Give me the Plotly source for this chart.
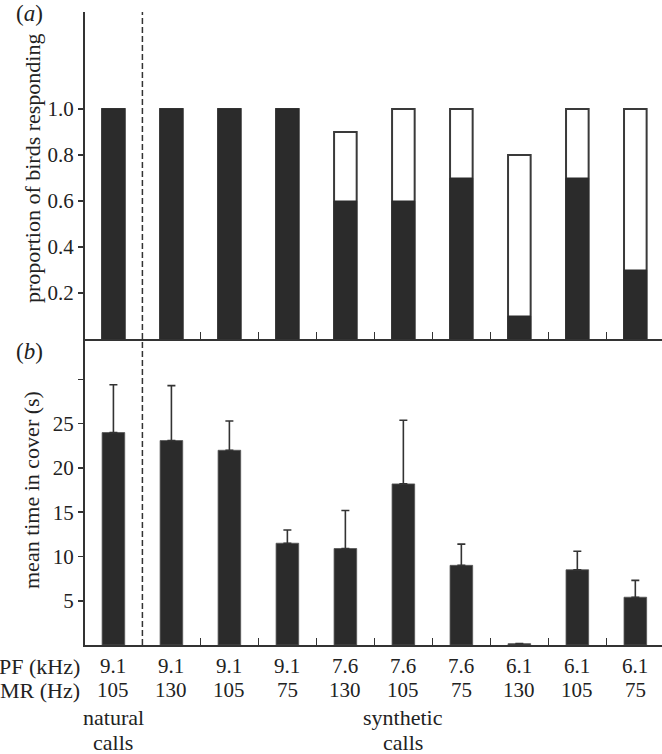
import plotly.graph_objects as go

# ---- data ----
pf_khz = ["9.1", "9.1", "9.1", "9.1", "7.6", "7.6", "7.6", "6.1", "6.1", "6.1"]
mr_hz = ["105", "130", "105", "75", "130", "105", "75", "130", "105", "75"]
n_natural = 1
group_labels = [("natural", "calls"), ("synthetic", "calls")]

prop_total = [1.0, 1.0, 1.0, 1.0, 0.9, 1.0, 1.0, 0.8, 1.0, 1.0]
prop_black = [1.0, 1.0, 1.0, 1.0, 0.6, 0.6, 0.7, 0.1, 0.7, 0.3]

mean_cover = [24.0, 23.1, 22.0, 11.5, 10.9, 18.2, 9.0, 0.15, 8.5, 5.4]
mean_upper = [29.4, 29.3, 25.3, 13.0, 15.2, 25.4, 11.4, 0.15, 10.6, 7.3]

top_ticks = [0.2, 0.4, 0.6, 0.8, 1.0]
bot_ticks = [5, 10, 15, 20, 25, 30]
bot_ticktext = ["5", "10", "15", "20", "25", ""]

# ---- styling ----
W, H = 662, 754
ML, MR_, MT, MB = 85, 0, 12, 109
FONT = "Liberation Serif, Times New Roman, serif"
FS = 21
DARK = "#2b2b2b"
LINE = "#333333"
TXT = "#222222"

xs = list(range(len(pf_khz)))
err_up = [u - m for u, m in zip(mean_upper, mean_cover)]
xr = [-0.49, 9.46]
mids = [i + 0.5 for i in range(n_natural, len(xs) - 1)]

fig = go.Figure()
# top panel: white outlined total, black responding overlay
fig.add_trace(go.Bar(x=xs, y=prop_total, width=0.39, xaxis="x", yaxis="y",
                     marker=dict(color="white", line=dict(color="#3a3a3a", width=2)),
                     showlegend=False, hoverinfo="skip"))
fig.add_trace(go.Bar(x=xs, y=prop_black, width=0.39, xaxis="x", yaxis="y",
                     marker=dict(color=DARK, line=dict(color=DARK, width=1)),
                     showlegend=False, hoverinfo="skip"))
# bottom panel
fig.add_trace(go.Bar(x=xs, y=mean_cover, width=0.39, xaxis="x2", yaxis="y2",
                     marker=dict(color=DARK, line=dict(color="#555555", width=0.8)),
                     error_y=dict(type="data", symmetric=False, array=err_up,
                                  arrayminus=[0] * len(xs), color=LINE,
                                  thickness=1.6, width=4),
                     showlegend=False, hoverinfo="skip"))

ax_common = dict(range=xr, showline=True, linecolor=LINE, linewidth=2,
                 showgrid=False, zeroline=False, ticks="",
                 showticklabels=False, fixedrange=True,
                 minor=dict(tickmode="array", tickvals=mids, ticks="inside",
                            ticklen=7, tickwidth=1.5, tickcolor=LINE))

bot_dom_top = (H - MB - 340) / (H - MT - MB)
top_dom_bot = (H - MB - 339) / (H - MT - MB)

fig.update_layout(
    width=W, height=H,
    margin=dict(l=ML, r=MR_, t=MT, b=MB, autoexpand=False),
    paper_bgcolor="white", plot_bgcolor="white",
    barmode="overlay",
    font=dict(family=FONT, size=FS, color=TXT),
    xaxis=dict(**ax_common, anchor="y"),
    xaxis2=dict(**ax_common, anchor="y2"),
    yaxis=dict(domain=[top_dom_bot, 1], range=[0, 1.4217], anchor="x",
               showline=True, linecolor=LINE, linewidth=2, showgrid=False,
               zeroline=False, ticks="outside", ticklen=5, tickwidth=1.5,
               tickcolor=LINE, tickvals=top_ticks, automargin=False,
               ticktext=[f"{v:.1f}" for v in top_ticks], fixedrange=True,
               tickfont=dict(family=FONT, size=FS, color=TXT)),
    yaxis2=dict(domain=[0, bot_dom_top], range=[0, 34.46], anchor="x2",
                showline=True, linecolor=LINE, linewidth=2, showgrid=False,
                zeroline=False, ticks="outside", ticklen=5, tickwidth=1.5,
                tickcolor=LINE, tickvals=bot_ticks, ticktext=bot_ticktext,
                automargin=False, fixedrange=True,
                tickfont=dict(family=FONT, size=FS, color=TXT)),
)

# dashed divider between natural and synthetic calls
fig.add_shape(type="line", xref="x", yref="paper",
              x0=n_natural - 0.5, x1=n_natural - 0.5, y0=0, y1=1,
              line=dict(color=LINE, width=1.5, dash="6px,3px"))

pw = W - ML - MR_
ph = H - MT - MB


def px(xpix):
    return (xpix - ML) / pw


def py(ypix):
    return (H - MB - ypix) / ph


def note(text, x, y, xref="paper", xanchor="center", size=FS, angle=0):
    return dict(text=text, x=x, y=py(y), xref=xref, yref="paper",
                textangle=angle, showarrow=False, xanchor=xanchor,
                yanchor="middle", font=dict(size=size))


ann = []
# axis titles
ann.append(note("proportion of birds responding", px(32), 169, size=22, angle=-90))
ann.append(note("mean time in cover (s)", px(32), 490, size=22, angle=-90))
# panel labels
ann.append(note("(<i>a</i>)", px(29), 14, size=23))
ann.append(note("(<i>b</i>)", px(29), 352, size=23))
# row labels
ann.append(note("PF (kHz)", px(82), 666, xanchor="right", size=22))
ann.append(note("MR (Hz)", px(82), 690, xanchor="right", size=22))
for i in xs:
    ann.append(note(pf_khz[i], i, 666, xref="x2"))
    ann.append(note(mr_hz[i], i, 690, xref="x2"))
# group labels, centred over their categories
groups = [list(range(0, n_natural)), list(range(n_natural, len(xs)))]
for (l1, l2), idx in zip(group_labels, groups):
    cx = sum(idx) / len(idx)
    ann.append(note(l1, cx, 717, xref="x2", size=22))
    ann.append(note(l2, cx, 743, xref="x2", size=22))
fig.update_layout(annotations=ann)

fig.write_html("out.html",
               config={"displayModeBar": False, "staticPlot": True},
               post_script="document.body.style.margin='0';"
                           "document.body.style.overflow='hidden';")
